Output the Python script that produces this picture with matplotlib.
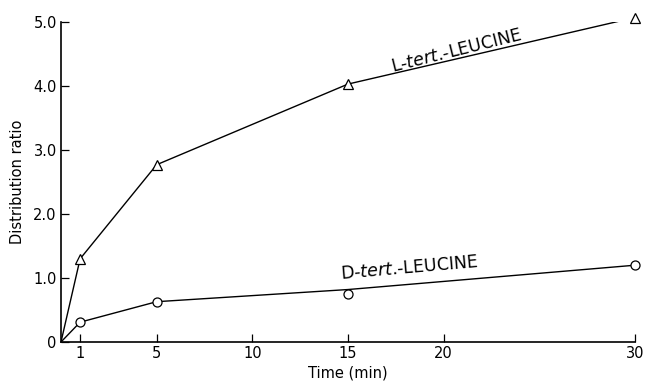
import matplotlib
matplotlib.use("Agg")
import matplotlib.pyplot as plt

# data
time_min = [0, 1, 5, 15, 30]
l_ratio = [0, 1.30, 2.77, 4.03, 5.07]
d_ratio = [0, 0.31, 0.63, 0.75, 1.20]
d_curve = [0, 0.31, 0.63, 0.82, 1.20]   # drawn line, not through the 15 min point
x_ticks = [1, 5, 10, 15, 20, 30]
y_ticks = [0, 1, 2, 3, 4, 5]
y_tick_labels = ["0", "1.0", "2.0", "3.0", "4.0", "5.0"]

plt.rcParams["font.family"] = ["DejaVu Sans"]

fig = plt.figure(figsize=(6.46, 3.83), dpi=100)
ax = fig.add_axes([0.0944, 0.107, 0.8886, 0.8356])

ax.plot(time_min, l_ratio, color="black", lw=1.0, zorder=2)
ax.plot(time_min[1:], l_ratio[1:], ls="none", marker="^", ms=6.5,
        mfc="white", mec="black", mew=0.9, zorder=3, clip_on=False)
ax.plot(time_min, d_curve, color="black", lw=1.0, zorder=2)
ax.plot(time_min[1:], d_ratio[1:], ls="none", marker="o", ms=6.5,
        mfc="white", mec="black", mew=0.9, zorder=3, clip_on=False)

ax.set_xlim(0, 30)
ax.set_ylim(0, 5)
ax.set_xticks(x_ticks)
ax.set_xticklabels([str(t) for t in x_ticks])
ax.set_yticks(y_ticks)
ax.set_yticklabels(y_tick_labels)
ax.tick_params(direction="in", length=6, width=0.9, labelsize=10.5, pad=3)

for s in ["top", "right"]:
    ax.spines[s].set_visible(False)
for s in ["left", "bottom"]:
    ax.spines[s].set_linewidth(1.2)

ax.set_xlabel("Time (min)", fontsize=10.5, labelpad=3)
ax.set_ylabel("Distribution ratio", fontsize=10.5, labelpad=6)

ax.text(20.7, 4.55, r"L-$\mathit{tert}$.-LEUCINE", fontsize=12.5,
        rotation=14, ha="center", va="center")
ax.text(18.2, 1.15, r"D-$\mathit{tert}$.-LEUCINE", fontsize=12.5,
        rotation=5, ha="center", va="center")

fig.savefig("out.png", dpi=100)
